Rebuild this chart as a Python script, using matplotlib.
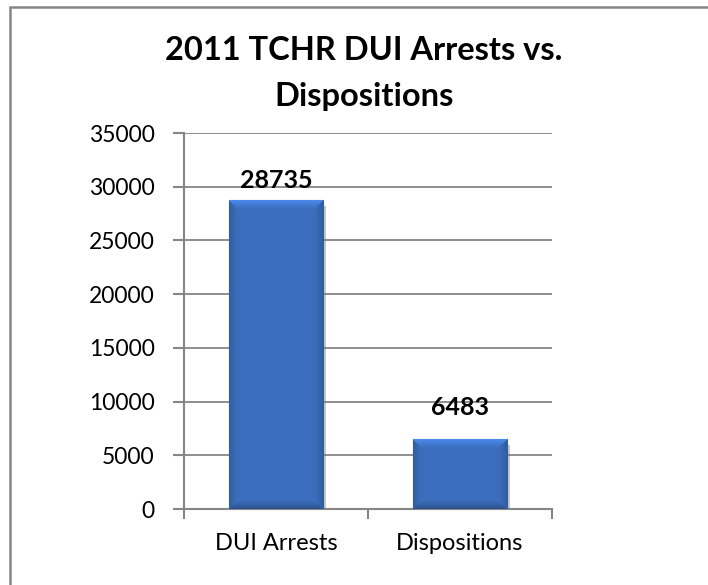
import matplotlib
matplotlib.use("Agg")
import numpy as np
import matplotlib.pyplot as plt
import matplotlib.patches as mpatches
import matplotlib.patheffects as pe

# chart data
categories = ["DUI Arrests", "Dispositions"]
values = [28735, 6483]
yticks = [0, 5000, 10000, 15000, 20000, 25000, 30000, 35000]
title = "2011 TCHR DUI Arrests vs.\nDispositions"
label_offsets = [6, 15]   # points above the bar top for each value label

plt.rcParams['font.family'] = ['Lato', 'DejaVu Sans']

fig = plt.figure(figsize=(7.08, 5.85), dpi=100)
ax = fig.add_axes([184 / 708, 76 / 585, 368 / 708, 376 / 585])
ax.set_ylim(0, 35000)
ax.set_xlim(-0.5, len(categories) - 0.5)

grey = '#868686'
base = np.array([0.235, 0.435, 0.745])
xpos = list(range(len(categories)))
bw = 0.51
bars = ax.bar(xpos, values, width=bw, color=base, edgecolor='#30609f',
              linewidth=0.8, zorder=3)


def bevel(wpx, hpx, b=9):
    # soft bevelled face: lighter top edge, darker sides and bottom
    yy, xx = np.mgrid[0:hpx, 0:wpx]
    dl, dr, dt, db = xx, wpx - 1 - xx, yy, hpx - 1 - yy
    m = np.minimum(np.minimum(dl, dr), np.minimum(dt, db))
    w = np.clip(1 - m / b, 0, 1) ** 1.3
    edge = np.ones((hpx, wpx))
    edge[m == db] = 0.74
    edge[(m == dl) | (m == dr)] = 0.84
    edge[m == dt] = 1.25
    f = 1 + (edge - 1) * w
    img = np.clip(base[None, None, :] * f[:, :, None], 0, 1)
    return img


for b in bars:
    b.set_path_effects([pe.SimplePatchShadow(offset=(2, -4), shadow_rgbFace='#777777', alpha=0.4),
                        pe.Normal()])
    x0, y0 = ax.transData.transform((b.get_x(), 0))
    x1, y1 = ax.transData.transform((b.get_x() + b.get_width(), b.get_height()))
    img = bevel(int(round(x1 - x0)), int(round(y1 - y0)))
    im = ax.imshow(img, extent=(b.get_x(), b.get_x() + b.get_width(), 0, b.get_height()),
                   aspect='auto', origin='upper', zorder=3.5, interpolation='bilinear')
    im.set_clip_path(b)

ax.set_ylim(0, 35000)
ax.set_xlim(-0.5, len(categories) - 0.5)

# data labels above bars
for x, v, off in zip(xpos, values, label_offsets):
    ax.annotate(str(v), (x, v), xytext=(0, off), textcoords='offset points',
                ha='center', va='bottom', fontsize=18, fontweight='bold', color='black')

ax.set_yticks(yticks)
ax.set_yticklabels([str(t) for t in yticks], fontsize=16.5)
ax.set_xticks(xpos)
ax.set_xticklabels(categories, fontsize=17)
ax.set_xticks([-0.5, 0.5, 1.5], minor=True)
ax.tick_params(axis='x', which='major', length=0, pad=17)
ax.tick_params(axis='x', which='minor', length=7, width=1.5, color=grey, direction='out')
ax.tick_params(axis='y', length=8, width=1.5, color=grey, pad=13, direction='out')

ax.grid(axis='y', color=grey, linewidth=1.3, zorder=0)
ax.set_axisbelow(True)
for s in ['top', 'right']:
    ax.spines[s].set_visible(False)
for s in ['left', 'bottom']:
    ax.spines[s].set_color(grey)
    ax.spines[s].set_linewidth(1.5)

fig.text(364 / 708, 1 - 36 / 585, title, ha='center', va='top', fontsize=23.5,
         fontweight='bold', linespacing=1.7)

# chart area border (cut off at right and bottom like the original)
border = mpatches.Rectangle((10 / 708, -0.1), 1.2, 1 - 7 / 585 + 0.1, transform=fig.transFigure,
                            fill=False, edgecolor=grey, linewidth=1.8, clip_on=False)
fig.patches.append(border)

fig.savefig("out.png", dpi=100)
